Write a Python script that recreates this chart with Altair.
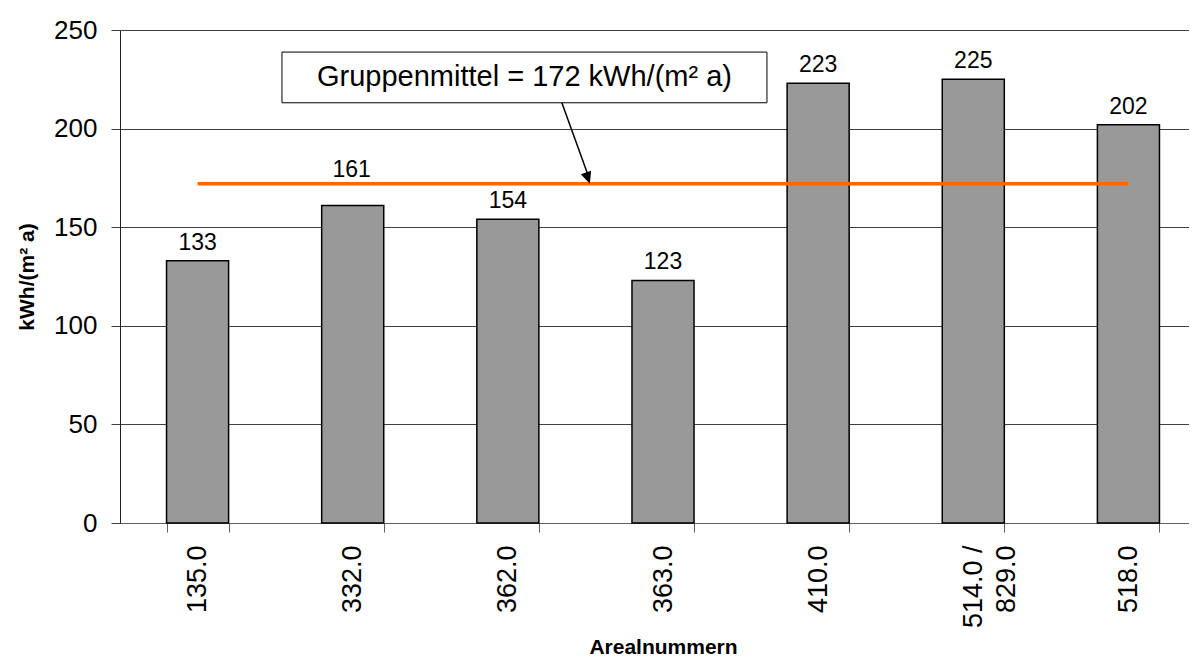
import altair as alt
import pandas as pd

# ---- data ----
categories = ["135.0", "332.0", "362.0", "363.0", "410.0", "514.0 /\n829.0", "518.0"]
values = [133, 161, 154, 123, 223, 225, 202]
group_mean = 172
y_ticks = [0, 50, 100, 150, 200, 250]

FONT = "Liberation Sans"

df = pd.DataFrame({"cat": categories, "val": values})
df_mean = pd.DataFrame({"cat": [categories[0], categories[-1]], "val": [group_mean, group_mean]})

x_scale = alt.Scale(domain=categories, paddingInner=0.6, paddingOuter=0.3)
y_scale = alt.Scale(domain=[0, 250], nice=False)

x_axis = alt.Axis(
    title="Arealnummern", titleFont=FONT, titleFontSize=21, titleFontWeight="bold",
    titleColor="black", titleBaseline="alphabetic", titleY=130, titleX=543,
    labelAngle=270, labelFont=FONT, labelFontSize=27, labelColor="black",
    labelPadding=13, labelExpr="split(datum.label, '\\n')", labelLineHeight=33,
    tickSize=9, tickBand="extent", tickColor="#606060", domainColor="#606060",
    grid=False,
)
y_axis = alt.Axis(
    title="kWh/(m² a)", titleFont=FONT, titleFontSize=21, titleFontWeight="bold",
    titleColor="black", titleX=-87, titleBaseline="alphabetic",
    values=y_ticks, labelFont=FONT, labelFontSize=26, labelColor="black",
    labelPadding=14, tickSize=9, tickColor="#404040", domainColor="#202020",
    grid=True, gridColor="#404040", gridWidth=1,
)

X = alt.X("cat:N", sort=categories, scale=x_scale, axis=x_axis)
Y = alt.Y("val:Q", scale=y_scale, axis=y_axis)

bars = alt.Chart(df).mark_bar(fill="#999999", stroke="black", strokeWidth=1.5).encode(x=X, y=Y)

# value labels; the one for "332.0" sits higher (moved above the mean line)
moved = categories[1]
labels = alt.Chart(df).mark_text(
    dy=-11, baseline="alphabetic", fontSize=23, font=FONT, color="black"
).encode(x=X, y=Y, text="val:Q").transform_filter(alt.datum.cat != moved)
label_moved = alt.Chart(df).mark_text(
    dy=-29, dx=-1, baseline="alphabetic", fontSize=23, font=FONT, color="black"
).encode(x=X, y=Y, text="val:Q").transform_filter(alt.datum.cat == moved)

mean_line = alt.Chart(df_mean).mark_line(color="#FF6600", strokeWidth=3.5).encode(x=X, y=Y)

# annotation (box, arrow, text) anchored on category "362.0"
anchor = categories[2]
df_box = pd.DataFrame({"cat": [anchor], "lo": [213.1], "hi": [238.8]})
box = alt.Chart(df_box).mark_bar(
    width=485, xOffset=16.6, fill="white", stroke="black", strokeWidth=1
).encode(x=X, y=alt.Y("lo:Q", scale=y_scale, axis=y_axis), y2="hi:Q")

df_arrow = pd.DataFrame({"cat": [anchor], "top": [213.1], "bot": [176]})
arrow = alt.Chart(df_arrow).mark_rule(
    color="black", strokeWidth=1.5, xOffset=54, x2Offset=80.5
).encode(x=X, x2=alt.X2("cat:N"), y=alt.Y("top:Q", scale=y_scale, axis=y_axis), y2="bot:Q")

df_head = pd.DataFrame({"cat": [anchor], "val": [group_mean]})
head = alt.Chart(df_head).mark_point(
    shape="M0,0 L-0.45,-1 L0.45,-1 Z", size=576, filled=True, color="black",
    opacity=1, angle=341, xOffset=82
).encode(x=X, y=Y)

df_text = pd.DataFrame({"cat": [anchor], "val": [226.0],
                        "txt": [f"Gruppenmittel = {group_mean} kWh/(m² a)"]})
annot = alt.Chart(df_text).mark_text(
    fontSize=29, font=FONT, color="black", baseline="middle", align="center", xOffset=16.6
).encode(x=X, y=Y, text="txt:N")

chart = alt.layer(bars, labels, label_moved, mean_line, box, arrow, head, annot).properties(
    width=1086, height=493,
    padding={"left": 112, "top": 22, "right": -17, "bottom": 133},
    autosize=alt.AutoSizeParams(type="none"),
).configure_view(stroke="transparent").configure(font=FONT, background="white")

chart.save("out.html", embed_options={"renderer": "svg", "actions": False})
